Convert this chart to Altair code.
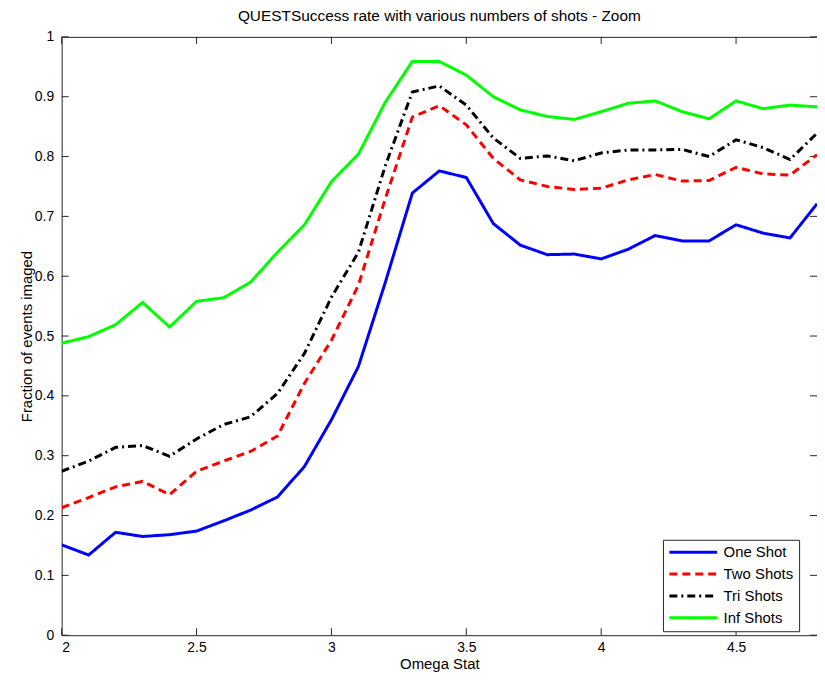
import altair as alt
import pandas as pd

omega = [2.0, 2.1, 2.2, 2.3, 2.4, 2.5, 2.6, 2.7, 2.8, 2.9, 3.0, 3.1, 3.2, 3.3, 3.4,
         3.5, 3.6, 3.7, 3.8, 3.9, 4.0, 4.1, 4.2, 4.3, 4.4, 4.5, 4.6, 4.7, 4.8]

one_shot = [0.151, 0.134, 0.172, 0.165, 0.168, 0.174, 0.191, 0.209, 0.231, 0.282,
            0.360, 0.449, 0.590, 0.739, 0.776, 0.765, 0.688, 0.652, 0.636, 0.637,
            0.629, 0.645, 0.668, 0.659, 0.659, 0.686, 0.672, 0.664, 0.721]
two_shots = [0.213, 0.230, 0.248, 0.257, 0.235, 0.274, 0.291, 0.307, 0.333, 0.421,
             0.493, 0.585, 0.730, 0.866, 0.885, 0.853, 0.797, 0.761, 0.750, 0.745,
             0.747, 0.761, 0.770, 0.759, 0.760, 0.782, 0.771, 0.769, 0.803]
tri_shots = [0.274, 0.291, 0.314, 0.317, 0.299, 0.328, 0.352, 0.365, 0.404, 0.471,
             0.565, 0.640, 0.785, 0.908, 0.918, 0.886, 0.831, 0.797, 0.801, 0.793,
             0.806, 0.811, 0.811, 0.812, 0.800, 0.828, 0.815, 0.795, 0.839]
inf_shots = [0.488, 0.499, 0.519, 0.556, 0.515, 0.558, 0.564, 0.590, 0.640, 0.686,
             0.758, 0.804, 0.891, 0.959, 0.959, 0.936, 0.900, 0.878, 0.867, 0.862,
             0.875, 0.889, 0.893, 0.875, 0.863, 0.893, 0.880, 0.886, 0.883]

series_names = ["One Shot", "Two Shots", "Tri Shots", "Inf Shots"]
series_colors = ["#0000ff", "#ff0000", "#000000", "#00ff00"]
series_dashes = [[1, 0], [8, 5], [8, 4, 2, 4], [1, 0]]

x_ticks = [2.0, 2.5, 3.0, 3.5, 4.0, 4.5]
y_ticks = [0.0, 0.1, 0.2, 0.3, 0.4, 0.5, 0.6, 0.7, 0.8, 0.9, 1.0]

rows = []
for name, vals in zip(series_names, [one_shot, two_shots, tri_shots, inf_shots]):
    for o, v in zip(omega, vals):
        rows.append({"omega": o, "value": v, "series": name})
df = pd.DataFrame(rows)
xt = pd.DataFrame({"xv": x_ticks})
yt = pd.DataFrame({"yv": y_ticks})

W, H = 760, 602
FONT = "Liberation Sans"
TICK = "#262626"

xscale = alt.Scale(domain=[2, 4.8], nice=False, zero=False)
yscale = alt.Scale(domain=[0, 1], nice=False)

lines = alt.Chart(df).mark_line(strokeWidth=3, clip=True).encode(
    x=alt.X("omega:Q", scale=xscale,
            axis=alt.Axis(title="Omega Stat", values=x_ticks, format="~g", ticks=False,
                          domain=False, grid=False, labelPadding=5, titlePadding=3)),
    y=alt.Y("value:Q", scale=yscale,
            axis=alt.Axis(title="Fraction of events imaged", values=y_ticks, format="~g",
                          ticks=False, domain=False, grid=False, labelPadding=8,
                          titlePadding=0)),
    color=alt.Color("series:N", scale=alt.Scale(domain=series_names, range=series_colors),
                    title=None, sort=series_names),
    strokeDash=alt.StrokeDash("series:N",
                              scale=alt.Scale(domain=series_names, range=series_dashes),
                              title=None, sort=series_names),
)

xt_bottom = alt.Chart(xt).mark_rule(color=TICK, strokeWidth=1).encode(
    x="xv:Q", y=alt.value(H), y2=alt.value(H - 7))
xt_top = alt.Chart(xt).mark_rule(color=TICK, strokeWidth=1).encode(
    x="xv:Q", y=alt.value(0), y2=alt.value(7))
yt_left = alt.Chart(yt).mark_rule(color=TICK, strokeWidth=1).encode(
    y="yv:Q", x=alt.value(0), x2=alt.value(7))
yt_right = alt.Chart(yt).mark_rule(color=TICK, strokeWidth=1).encode(
    y="yv:Q", x=alt.value(W), x2=alt.value(W - 7))

chart = alt.layer(xt_bottom, xt_top, yt_left, yt_right, lines).properties(
    width=W, height=H,
    title=alt.Title("QUESTSuccess rate with various numbers of shots - Zoom",
                    font=FONT, fontSize=15.5, fontWeight="normal", color="black",
                    offset=5, frame="group"),
    autosize=alt.AutoSizeParams(type="none"),
    padding={"left": 54, "top": 27, "right": 0, "bottom": 40},
).configure_view(
    stroke=TICK, strokeWidth=1
).configure_axis(
    labelFont=FONT, labelFontSize=14, labelColor="black",
    titleFont=FONT, titleFontSize=15, titleColor="black", titleFontWeight="normal",
).configure_legend(
    orient="none", legendX=605, legendY=506,
    strokeColor=TICK, fillColor="white", padding=5, cornerRadius=0,
    symbolType="M-1,0H7", symbolSize=144, symbolStrokeWidth=3,
    labelFont=FONT, labelFontSize=15, labelColor="black", labelOffset=41,
    rowPadding=6, symbolOffset=0,
)

chart.save("out.html", embed_options={"renderer": "svg", "actions": False})
